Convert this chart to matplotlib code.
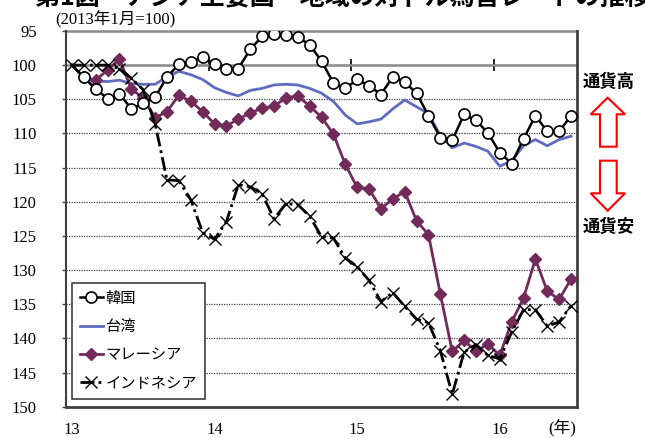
import matplotlib
matplotlib.use("Agg")
import matplotlib.pyplot as plt
from matplotlib.patches import Polygon
import numpy as np

# Monthly index values, Jan 2013 = 100 (Jan 2013 .. Jul 2016)
months = np.arange(43)
year_ticks = [0, 12, 24, 36]
year_labels = ["13", "14", "15", "16"]
year_bounds = [11.5, 23.5, 35.5]
y_ticks = list(range(95, 151, 5))

series_names = ["韓国", "台湾", "マレーシア", "インドネシア"]

korea = [100.0, 101.8, 103.5, 104.9, 104.2, 106.4, 105.6, 104.7, 101.7, 99.9,
         99.5, 98.8, 99.8, 100.5, 100.5, 97.7, 95.8, 95.4, 95.6, 95.9,
         97.0, 99.4, 102.6, 103.4, 102.1, 103.0, 104.3, 101.7, 102.5, 104.1,
         107.4, 110.6, 111.0, 107.2, 108.1, 109.9, 112.8, 114.4, 110.8, 107.4,
         109.7, 109.7, 107.4]

taiwan = [100.0, 101.8, 102.3, 102.4, 102.2, 102.7, 102.8, 102.8, 101.7, 100.9,
          101.4, 102.1, 103.3, 104.0, 104.5, 103.7, 103.4, 102.9, 102.8, 102.9,
          103.4, 104.1, 105.3, 107.3, 108.6, 108.3, 107.9, 106.4, 105.1, 106.1,
          107.1, 110.3, 112.1, 111.4, 111.9, 112.6, 114.8, 114.0, 111.8, 110.9,
          111.8, 110.9, 110.4]

malaysia = [100.0, 101.8, 102.2, 100.7, 99.1, 103.5, 104.8, 107.7, 106.8, 104.4,
            105.3, 106.8, 108.6, 108.9, 107.9, 107.0, 106.3, 106.0, 104.8, 104.5,
            106.0, 107.6, 110.1, 114.5, 117.9, 118.1, 121.0, 119.6, 118.5, 122.8,
            124.8, 133.5, 141.9, 140.3, 141.9, 140.8, 142.5, 137.6, 134.1, 128.4,
            133.1, 134.3, 131.3]

indonesia = [100.0, 100.0, 100.0, 100.0, 100.5, 101.9, 103.6, 108.6, 116.8, 116.9,
             119.7, 124.5, 125.5, 122.9, 117.5, 117.8, 118.8, 122.5, 120.3, 120.4,
             122.1, 125.1, 125.3, 128.2, 129.5, 131.5, 134.6, 133.3, 135.3, 137.2,
             137.7, 141.8, 148.2, 142.0, 140.9, 142.5, 143.0, 139.1, 135.8, 135.8,
             138.2, 137.6, 135.2]

plt.rcParams["font.family"] = ["Liberation Serif", "Noto Sans CJK JP"]

W, H = 645, 438
fig = plt.figure(figsize=(W / 100, H / 100), dpi=100)


def fx(px):
    return px / W


def fy(py):
    return 1 - py / H


ax = fig.add_axes([fx(66), fy(406.7), fx(577) - fx(66), fy(31) - fy(406.7)])

# base month carries no marker on these two series
after_base = list(range(1, len(months)))

l_tw, = ax.plot(months, taiwan, color="#5f6cc0", lw=2.0, zorder=3,
                label=series_names[1])
l_my, = ax.plot(months, malaysia, color="#722a5b", lw=2.0, marker="D",
                markersize=6.5, markevery=after_base, zorder=4,
                label=series_names[2])
l_id, = ax.plot(months, indonesia, color="black", lw=2.0,
                linestyle=(0, (5, 1.5, 1, 1.5)), marker="x", markersize=8,
                markeredgewidth=1.0, zorder=5, label=series_names[3])
l_kr, = ax.plot(months, korea, color="black", lw=1.8, marker="o",
                markersize=8, markerfacecolor="white", markeredgecolor="black",
                markeredgewidth=1.2, markevery=after_base, zorder=6,
                label=series_names[0])

ax.set_xlim(-0.5, 42.5)
ax.set_ylim(150, 95)
ax.set_yticks(y_ticks)
ax.set_xticks(year_ticks)
ax.set_xticklabels(year_labels)
ax.set_xticks(year_bounds, minor=True)

ax.yaxis.grid(True, color="#444444", linestyle=(0, (1, 1)), lw=0.9)
ax.set_axisbelow(True)

# category axis crosses at 100
ax.spines["top"].set_position(("data", 100))
ax.spines["top"].set_color("#8a8a8a")
ax.spines["top"].set_linewidth(1.8)
ax.spines["top"].set_zorder(2)
ax.axhline(95, color="#8a8a8a", lw=1.8, clip_on=False, zorder=2)
for side in ["left", "right", "bottom"]:
    ax.spines[side].set_color("#404040")
ax.spines["left"].set_linewidth(1.5)
ax.spines["right"].set_linewidth(2.0)
ax.spines["bottom"].set_linewidth(2.0)

ax.tick_params(axis="x", which="major", length=0, pad=11, labelsize=12,
               top=False, bottom=True)
ax.tick_params(axis="x", which="minor", top=True, bottom=False,
               direction="inout", length=9, width=1.2, color="black")
ax.tick_params(axis="y", direction="out", length=3, width=1, pad=18,
               labelsize=12, color="#404040")

leg = ax.legend(handles=[l_kr, l_tw, l_my, l_id], loc="lower left",
                bbox_to_anchor=(0.011, 0.0205), borderaxespad=0,
                fontsize=11, frameon=True, fancybox=False,
                edgecolor="#404040", framealpha=1, handlelength=1.5,
                handletextpad=0.15, labelspacing=0.95, borderpad=0.55)
leg.get_frame().set_linewidth(1.2)
leg.set_zorder(10)

ax.text((562 - 66) / 511, (406.7 - 428) / 375.7, "(年)", transform=ax.transAxes,
        ha="center", va="center", fontsize=12)

fig.text(fx(55), fy(19), "(2013年1月=100)", ha="left", va="center", fontsize=12)

fig.text(fx(35), fy(5), "第1図　アジア主要国・地域の対ドル為替レートの推移",
         ha="left", va="baseline", fontsize=18, fontweight="bold",
         family=["Noto Sans CJK JP"])

# currency-direction markers on the right
fig.text(fx(609), fy(82), "通貨高", ha="center", va="center", fontsize=12.5,
         family=["Noto Sans CJK JP"], fontweight="bold")
fig.text(fx(609), fy(227), "通貨安", ha="center", va="center", fontsize=12.5,
         family=["Noto Sans CJK JP"], fontweight="bold")

up = [(607.7, 97.7), (625, 114.3), (616.7, 114.3), (616.7, 146.7),
      (600, 146.7), (600, 114.3), (590.7, 114.3)]
down = [(600, 160.7), (616.7, 160.7), (616.7, 193.3), (625, 193.3),
        (607.7, 210.7), (590.7, 193.3), (600, 193.3)]
for shape in (up, down):
    fig.patches.append(Polygon([(fx(x), fy(y)) for x, y in shape], closed=True,
                               transform=fig.transFigure, facecolor="white",
                               edgecolor="red", lw=1.5))

fig.savefig("out.png", dpi=100)
